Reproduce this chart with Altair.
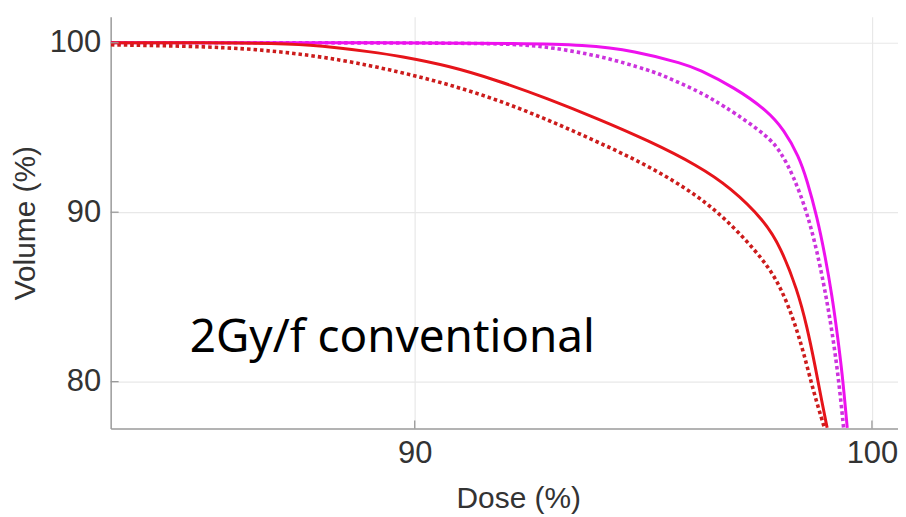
import altair as alt
import pandas as pd

# ---- data ----
red_solid_dose = [83.355, 86.38, 87.69, 89.14, 89.65, 90.74, 91.83, 92.92, 94.01, 95.10, 96.19, 96.91, 97.64, 98.00, 98.37, 98.58, 98.76, 98.91, 99.02]
red_solid_vol = [100.0, 100.0, 99.92, 99.43, 99.22, 98.65, 97.76, 96.69, 95.51, 94.24, 92.76, 91.45, 89.53, 87.96, 85.41, 83.25, 80.90, 78.75, 77.28]

red_dot_dose = [83.355, 85.51, 86.97, 88.41, 89.65, 90.74, 91.83, 92.92, 94.01, 95.10, 96.19, 96.91, 97.64, 98.00, 98.29, 98.51, 98.73, 98.96]
red_dot_vol = [99.88, 99.78, 99.53, 99.0, 98.3, 97.55, 96.62, 95.45, 94.14, 92.76, 91.0, 89.33, 87.18, 85.61, 83.65, 81.69, 79.33, 77.28]

mag_solid_dose = [83.355, 90.0, 92.27, 93.72, 94.81, 95.90, 96.19, 96.99, 97.71, 98.08, 98.40, 98.58, 98.80, 98.98, 99.13, 99.24, 99.35, 99.46]
mag_solid_vol = [100.0, 100.0, 99.96, 99.88, 99.53, 98.75, 98.45, 97.37, 96.0, 94.85, 93.3, 91.9, 89.72, 87.37, 85.02, 82.86, 80.51, 77.28]

mag_dot_dose = [83.355, 90.74, 92.27, 92.99, 94.08, 95.17, 95.46, 96.26, 96.55, 96.99, 97.71, 98.00, 98.29, 98.58, 98.80, 98.98, 99.13, 99.27, 99.38]
mag_dot_vol = [100.0, 100.0, 99.92, 99.72, 99.22, 98.34, 98.04, 97.06, 96.6, 95.88, 94.51, 93.6, 92.1, 90.0, 87.7, 85.30, 82.94, 80.20, 77.28]

x_ticks = [90, 100]
y_ticks = [80, 90, 100]
x_domain = [83.35, 100.57]
y_domain = [77.24, 101.53]

label_text = ["2Gy/f conventional"]
label_dose = [85.08]
label_vol = [81.76]

W, H = 790, 413


def series_df(d, v):
    return pd.DataFrame({"dose": d, "volume": v, "i": list(range(len(d)))})


xs = alt.Scale(domain=x_domain, nice=False, zero=False)
ys = alt.Scale(domain=y_domain, nice=False, zero=False)

x_enc = alt.X("dose:Q", scale=xs, axis=alt.Axis(
    values=x_ticks, title="Dose (%)", ticks=False, grid=True,
    labelPadding=10, titleX=409, titleY=79, titleBaseline="alphabetic",
    titleAnchor="start", titleAlign="center"))
y_enc = alt.Y("volume:Q", scale=ys, axis=alt.Axis(
    values=y_ticks, title="Volume (%)", ticks=False, grid=True,
    labelPadding=10, titleX=-76, titleY=H / 2, titleAngle=-90,
    titleBaseline="alphabetic", titleAlign="center", titleAnchor="start"))


def line(d, v, color, dash=None):
    kw = dict(strokeWidth=3, clip=True, color=color, interpolate="basis")
    if dash:
        kw.update(strokeDash=dash, strokeWidth=3.6, strokeCap="butt")
    return alt.Chart(series_df(d, v)).mark_line(**kw).encode(
        x=x_enc, y=y_enc, order="i:Q")


xtick_layer = alt.Chart(pd.DataFrame({"dose": x_ticks})).mark_rule(
    color="#9a9a9a", strokeWidth=1.3).encode(
    x=alt.X("dose:Q", scale=xs), y=alt.value(H), y2=alt.value(H - 8))
ytick_layer = alt.Chart(pd.DataFrame({"volume": y_ticks})).mark_rule(
    color="#9a9a9a", strokeWidth=1.3).encode(
    y=alt.Y("volume:Q", scale=ys), x=alt.value(0), x2=alt.value(8))

text_layer = alt.Chart(pd.DataFrame({"t": label_text, "dose": label_dose, "volume": label_vol})).mark_text(
    font="Noto Sans", fontSize=46, align="left", baseline="alphabetic", color="#000000").encode(
    x=alt.X("dose:Q", scale=xs), y=alt.Y("volume:Q", scale=ys), text="t:N")

chart = alt.layer(
    line(mag_dot_dose, mag_dot_vol, "#cc33dd", [3.5, 3]),
    line(mag_solid_dose, mag_solid_vol, "#ee11ee"),
    line(red_dot_dose, red_dot_vol, "#cc1c1c", [3.5, 3]),
    line(red_solid_dose, red_solid_vol, "#e6141a"),
    xtick_layer,
    ytick_layer,
    text_layer,
).properties(
    width=W, height=H,
    autosize=alt.AutoSizeParams(type="none"),
    padding={"left": 103, "top": 8, "right": 0, "bottom": 88},
).configure_view(stroke=None).configure_axis(
    domainColor="#9a9a9a", domainWidth=1.5, gridColor="#e8e8e8", gridWidth=1.2,
    labelColor="#333333", labelFont="Liberation Sans", labelFontSize=31,
    titleColor="#333333", titleFont="Liberation Sans", titleFontSize=30, titleFontWeight="normal",
).configure_axisY(domain=True).configure_axisX(domain=True)

chart.save("out.html", embed_options={"renderer": "svg", "actions": False})
